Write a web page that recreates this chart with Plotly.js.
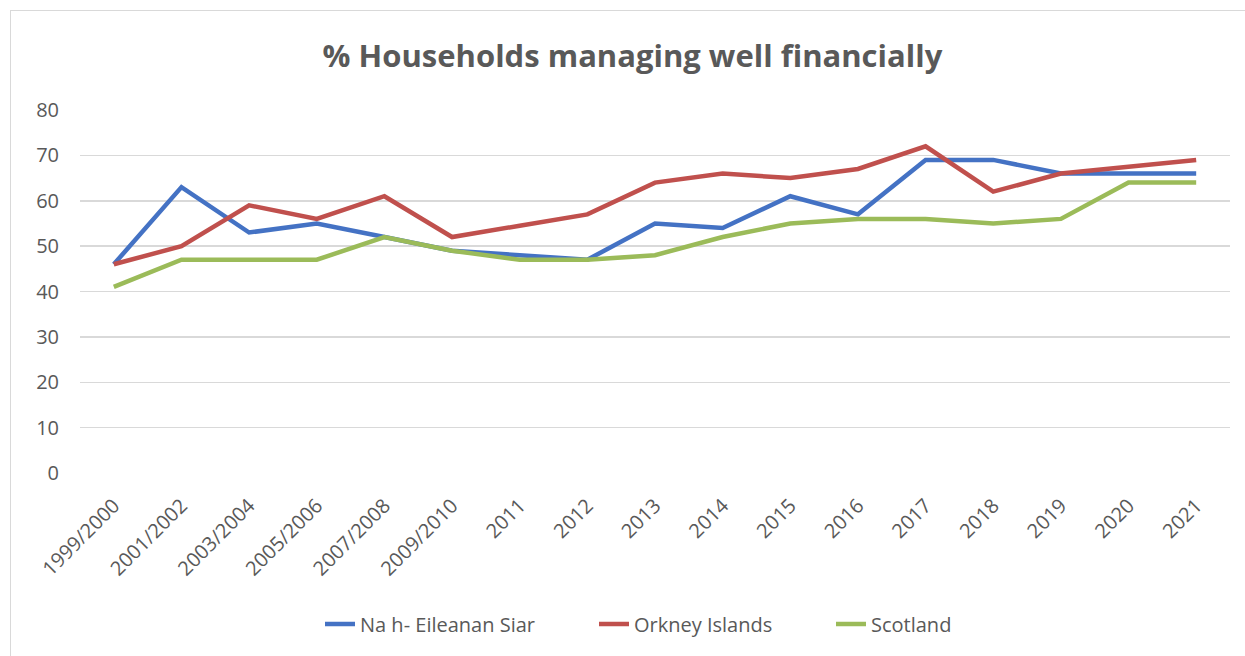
<!DOCTYPE html>
<html>
<head>
<meta charset="utf-8">
<script src="https://cdn.plot.ly/plotly-3.0.1.min.js"></script>
<style>
html,body{margin:0;padding:0;background:#fff;}
#frame{position:absolute;left:10px;top:10px;width:1240px;height:650px;border:1px solid #d9d9d9;box-sizing:border-box;}
#chart{position:absolute;left:0;top:0;width:1245px;height:656px;}
</style>
</head>
<body>
<div id="frame"></div>
<div id="chart"></div>
<script>
const categories = ["1999/2000","2001/2002","2003/2004","2005/2006","2007/2008","2009/2010","2011","2012","2013","2014","2015","2016","2017","2018","2019","2020","2021"];
const eileananSiar = [46,63,53,55,52,49,48,47,55,54,61,57,69,69,66,66,66];
const orkney = [46,50,59,56,61,52,54.5,57,64,66,65,67,72,62,66,67.5,69];
const scotland = [41,47,47,47,52,49,47,47,48,52,55,56,56,55,56,64,64];
const yTicks = [0,10,20,30,40,50,60,70,80];

const font = "Open Sans, Liberation Sans, sans-serif";
function tr(name, y, color, leg){
  return {x: categories, y: y, name: name, type: "scatter", mode: "lines", legend: leg,
    line: {color: color, width: 4.5, shape: "linear"}};
}
const data = [
  tr("Na h- Eileanan Siar", eileananSiar, "#4472C4", "legend"),
  tr("Orkney Islands", orkney, "#C0504D", "legend2"),
  tr("Scotland", scotland, "#9BBB59", "legend3")
];
const legFont = {family: font, size: 20, color: "#595959"};
function leg(px){
  return {orientation: "h", x: (px - 80) / 1150, xanchor: "left", y: -0.416, yanchor: "middle",
    font: legFont, itemwidth: 30, bgcolor: "rgba(0,0,0,0)", borderwidth: 0};
}
const layout = {
  width: 1245, height: 656,
  paper_bgcolor: "rgba(0,0,0,0)", plot_bgcolor: "rgba(0,0,0,0)",
  margin: {l: 80, r: 15, t: 110, b: 183},
  title: {text: "% Households managing well financially", x: 0.508, xanchor: "center", y: 0.915, yanchor: "middle",
    font: {family: font, size: 31, color: "#595959", weight: 700}},
  showlegend: true,
  legend: leg(320),
  legend2: leg(594),
  legend3: leg(831),
  xaxis: {type: "category", tickangle: -45, showgrid: false, showline: false, zeroline: false,
    ticks: "outside", ticklen: 12, tickcolor: "rgba(0,0,0,0)",
    tickfont: {family: font, size: 20, color: "#595959"}, range: [-0.5, 16.5]},
  yaxis: {range: [0, 80], tickvals: yTicks, showgrid: true, gridcolor: "#d9d9d9", gridwidth: 1.5,
    zeroline: false, showline: false, ticks: "", ticklabelstandoff: 20,
    tickfont: {family: font, size: 20, color: "#595959"}, automargin: false}
};
Plotly.newPlot("chart", data, layout, {displayModeBar: false, staticPlot: true});
</script>
</body>
</html>
